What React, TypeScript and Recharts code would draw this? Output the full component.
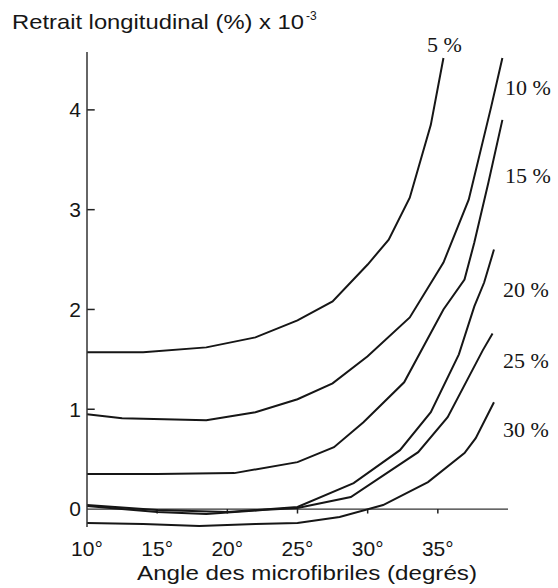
import { LineChart, Line, XAxis, YAxis, ReferenceLine } from "recharts";

// angle des microfibriles (degrés) vs retrait longitudinal (% x 10^-3)
const xTicks = [10, 15, 20, 25, 30, 35];
const yTicks = [0, 1, 2, 3, 4];
const seriesNames = ["5 %", "10 %", "15 %", "20 %", "25 %", "30 %"];

const curve5 = [
  [10, 1.57], [14, 1.57], [18.5, 1.62], [22, 1.72], [25, 1.89], [27.5, 2.08],
  [30, 2.45], [31.5, 2.7], [33, 3.12], [34.5, 3.85], [35.4, 4.52],
];
const curve10 = [
  [10, 0.95], [12.5, 0.91], [18.5, 0.89], [22, 0.97], [25, 1.1], [27.5, 1.26],
  [30, 1.53], [33, 1.92], [35.4, 2.47], [37.2, 3.1], [38.8, 4.03], [39.6, 4.52],
];
const curve15 = [
  [10, 0.35], [15, 0.35], [20.5, 0.36], [25, 0.47], [27.6, 0.62], [29.7, 0.87],
  [32.6, 1.27], [35.4, 2.0], [36.9, 2.3], [37.6, 2.67], [38.6, 3.27], [39.6, 3.9],
];
const curve20 = [
  [10, 0.04], [15, -0.01], [20, -0.03], [25, 0.02], [29, 0.26], [32.3, 0.59],
  [34.5, 0.97], [36.5, 1.55], [37.6, 2.03], [38.3, 2.27], [39, 2.6],
];
const curve25 = [
  [10, 0.03], [15, -0.03], [18.5, -0.05], [22.5, -0.01], [25, 0.01], [28.8, 0.12],
  [33.6, 0.57], [35.7, 0.92], [38.2, 1.59], [38.9, 1.76],
];
const curve30 = [
  [10, -0.14], [14, -0.15], [18, -0.17], [22, -0.15], [25, -0.14], [28, -0.08],
  [31.1, 0.04], [34.3, 0.27], [36.9, 0.56], [37.7, 0.71], [39, 1.07],
];

const curves = [curve5, curve10, curve15, curve20, curve25, curve30];
const toPoints = (c: number[][]) => c.map(([x, y]) => ({ x, y }));

// small tick marks drawn inside the axes, as two-point segments in data units
const xTickMarks = xTicks.slice(1).map((x) => [[x, 0], [x, -0.045]]);
const yTickMarks = yTicks.slice(1).map((y) => [[10, y], [10.55, y]]);

// label anchor positions (px) of the curve names on the right
const labelPos = [
  [427, 52], [505, 95], [505, 183], [503, 297], [503, 368], [503, 437],
];

const ink = "#161616";
const sans = "'Liberation Sans', Arial, sans-serif";
const serif = "'Liberation Serif', 'Times New Roman', serif";

export default function App() {
  return (
    <div style={{ position: "absolute", left: 0, top: 0, width: 558, height: 588, background: "#fff" }}>
      <LineChart
        width={558}
        height={588}
        margin={{ top: 52, right: 50, bottom: 31, left: 0 }}
      >
        <XAxis
          dataKey="x"
          type="number"
          domain={[10, 40]}
          ticks={xTicks}
          tickFormatter={(v) => `${v}°`}
          axisLine={false}
          tickLine={false}
          tickSize={0}
          tickMargin={14}
          height={30}
          tick={{ fontSize: 21, fill: ink, fontFamily: sans }}
          allowDuplicatedCategory={false}
        />
        <YAxis
          type="number"
          domain={[-0.18, 4.58]}
          ticks={yTicks}
          width={87}
          tickLine={false}
          tickSize={0}
          tickMargin={6}
          axisLine={{ stroke: "#333", strokeWidth: 1.5 }}
          tick={{ fontSize: 21, fill: ink, fontFamily: sans }}
        />
        <ReferenceLine y={0} stroke="#333" strokeWidth={1.3} />
        {[...xTickMarks, ...yTickMarks].map((m, i) => (
          <Line
            key={"tick" + i}
            data={toPoints(m)}
            dataKey="y"
            type="linear"
            stroke="#222"
            strokeWidth={1.5}
            dot={false}
            isAnimationActive={false}
          />
        ))}
        {curves.map((c, i) => (
          <Line
            key={seriesNames[i]}
            data={toPoints(c)}
            dataKey="y"
            type="linear"
            stroke={ink}
            strokeWidth={2}
            dot={false}
            isAnimationActive={false}
          />
        ))}
      </LineChart>
      <svg
        width={558}
        height={588}
        style={{ position: "absolute", left: 0, top: 0, pointerEvents: "none" }}
      >
        <text x={12} y={29} fontSize={21} fill={ink} fontFamily={sans} textLength={292} lengthAdjust="spacingAndGlyphs">
          Retrait longitudinal (%) x 10
        </text>
        <text x={306} y={20} fontSize={12} fill={ink} fontFamily={sans}>
          -3
        </text>
        <text x={137} y={580} fontSize={21} fill={ink} fontFamily={sans} textLength={340} lengthAdjust="spacingAndGlyphs">
          Angle des microfibriles (degrés)
        </text>
        {seriesNames.map((n, i) => (
          <text key={n} x={labelPos[i][0]} y={labelPos[i][1]} fontSize={22} fill={ink} fontFamily={serif}>
            {n}
          </text>
        ))}
      </svg>
    </div>
  );
}
